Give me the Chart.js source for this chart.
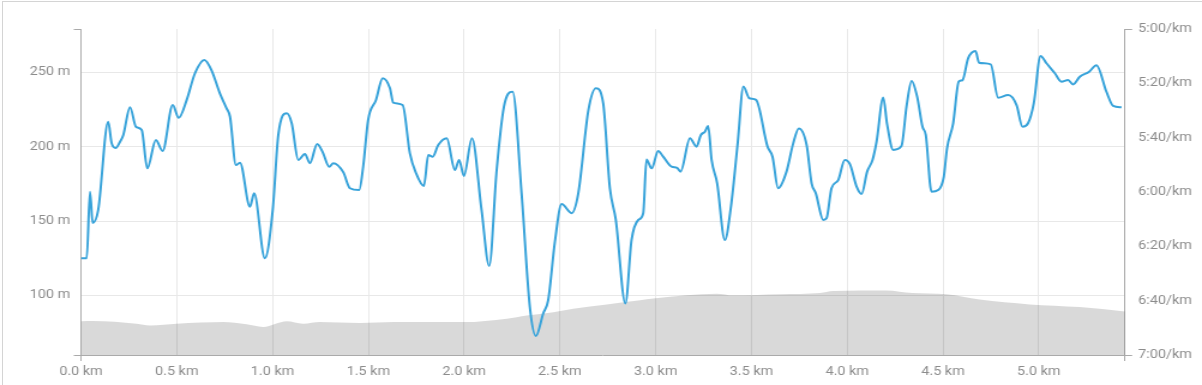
<!DOCTYPE html>
<html>
<head>
<meta charset="utf-8">
<script src="https://cdn.jsdelivr.net/npm/chart.js@4.4.1/dist/chart.umd.min.js"></script>
<style>
  body { margin: 0; background: #fff; overflow: hidden; }
  #frame { position: absolute; left: 2px; top: 1px; width: 1300px; height: 500px;
           border-top: 1px solid #d4d4d4; border-left: 1px solid #d4d4d4; }
  #wrap { position: absolute; left: 0; top: 0; width: 1002px; height: 385px;
          transform: scaleX(1.1996); transform-origin: 0 0; }
</style>
</head>
<body>
<div id="frame"></div>
<div id="wrap"><canvas id="chart"></canvas></div>
<script>
// distance along the run (km) and pace (seconds per km)
let paceKm = [0, 0.030, 0.047, 0.061, 0.090, 0.142, 0.160, 0.181, 0.204, 0.221,
  0.256, 0.287, 0.317, 0.346, 0.391, 0.426, 0.479, 0.510, 0.552, 0.595,
  0.644, 0.682, 0.725, 0.760, 0.778, 0.809, 0.830, 0.882, 0.904, 0.960,
  1.001, 1.030, 1.074, 1.100, 1.134, 1.169, 1.195, 1.233, 1.261, 1.296,
  1.317, 1.369, 1.404, 1.452, 1.473, 1.499, 1.540, 1.575, 1.613, 1.630,
  1.679, 1.717, 1.748, 1.790, 1.813, 1.836, 1.865, 1.909, 1.952, 1.974,
  1.999, 2.041, 2.091, 2.131, 2.170, 2.208, 2.253, 2.300, 2.343, 2.375,
  2.413, 2.439, 2.474, 2.509, 2.561, 2.596, 2.649, 2.688, 2.726, 2.761,
  2.792, 2.842, 2.874, 2.909, 2.935, 2.952, 2.979, 3.013, 3.039, 3.083,
  3.112, 3.130, 3.179, 3.213, 3.236, 3.257, 3.274, 3.292, 3.321, 3.361,
  3.393, 3.428, 3.458, 3.489, 3.524, 3.584, 3.610, 3.639, 3.683, 3.718,
  3.747, 3.788, 3.814, 3.836, 3.875, 3.892, 3.918, 3.953, 3.987, 4.014,
  4.049, 4.075, 4.104, 4.132, 4.153, 4.188, 4.208, 4.240, 4.283, 4.310,
  4.336, 4.365, 4.393, 4.410, 4.440, 4.475, 4.504, 4.521, 4.553, 4.582,
  4.602, 4.631, 4.670, 4.688, 4.749, 4.788, 4.840, 4.884, 4.915, 4.944,
  4.974, 5.009, 5.040, 5.084, 5.118, 5.153, 5.179, 5.214, 5.263, 5.301,
  5.353, 5.388, 5.432]
let paceSec = [384.4, 384.4, 359.9, 371.4, 366.6, 334.1, 342.0, 343.8, 341.5, 339.0,
  328.8, 336.0, 337.2, 351.3, 340.9, 344.9, 328.0, 332.7, 326.1, 316.3,
  311.4, 315.3, 323.7, 329.2, 332.3, 350.1, 349.2, 365.4, 360.5, 384.4,
  366.6, 339.0, 331.0, 334.7, 348.2, 346.0, 349.4, 342.3, 345.2, 350.7,
  349.4, 352.7, 358.6, 359.3, 350.7, 333.5, 326.1, 318.1, 321.8, 327.1,
  328.0, 345.8, 352.9, 357.8, 346.4, 347.0, 342.7, 340.2, 351.9, 348.2,
  354.1, 340.2, 366.6, 387.2, 351.9, 328.6, 323.1, 360.5, 402.2, 413.0,
  404.7, 399.8, 378.3, 364.4, 367.8, 360.5, 329.8, 321.8, 327.3, 358.6,
  370.3, 401.0, 377.7, 370.3, 367.8, 348.0, 351.3, 344.9, 347.0, 350.7,
  351.1, 352.5, 340.2, 343.3, 339.0, 337.8, 335.7, 348.2, 356.8, 377.7,
  365.4, 342.1, 321.2, 325.5, 326.1, 343.3, 347.0, 358.6, 352.5, 342.1,
  336.6, 342.7, 356.8, 360.5, 370.3, 369.7, 358.6, 355.6, 348.2, 349.7,
  358.0, 360.7, 352.5, 348.2, 341.5, 325.2, 335.0, 344.5, 343.1, 328.3,
  319.1, 324.9, 336.0, 339.0, 359.9, 359.3, 354.4, 343.9, 334.7, 319.4,
  318.8, 310.8, 308.1, 312.4, 313.0, 325.3, 324.3, 328.0, 336.0, 334.7,
  327.3, 309.9, 312.6, 316.3, 319.4, 318.8, 320.4, 317.6, 315.7, 313.3,
  323.1, 328.3, 328.8]

// elevation profile (m)
let elevKm = [0, 0.064, 0.291, 0.360, 0.499, 0.743, 0.865, 0.951, 1.074, 1.160,
  1.247, 1.456, 1.630, 1.995, 2.222, 2.326, 2.465, 2.569, 2.744, 2.918,
  2.987, 3.161, 3.318, 3.405, 3.648, 3.857, 3.926, 4.205, 4.342, 4.518,
  4.692, 4.953, 5.214, 5.45]
let elevM = [82.6, 82.8, 81.0, 79.9, 81.0, 82.1, 80.6, 78.8, 82.6, 81.0,
  82.1, 81.5, 82.1, 82.1, 84.4, 86.6, 88.8, 91.1, 94.0, 96.7,
  97.9, 100.1, 101.2, 100.1, 100.8, 101.6, 103.0, 103.4, 101.6, 100.8,
  97.2, 94.0, 92.2, 89.3]

// axis ticks
let kmTicks = [0, 0.5, 1.0, 1.5, 2.0, 2.5, 3.0, 3.5, 4.0, 4.5, 5.0]
let elevTicks = [100, 150, 200, 250]
let paceTicks = [300, 320, 340, 360, 380, 400, 420]

let kmMax = 5.45
let elevMin = 60
let elevMax = 279

let axisGray = '#aaaaaa'
let gridGray = '#e8e8e8'
let labelGray = '#8c8c8c'

let fmtPace = v => Math.floor(v / 60) + ':' + String(Math.round(v % 60)).padStart(2, '0') + '/km'

let ctx = document.getElementById('chart').getContext('2d')
let myChart = new Chart(ctx, {
  type: 'line',
  data: {
    datasets: [
      {
        label: 'Pace',
        data: paceKm.map((k, i) => ({x: k, y: paceSec[i]})),
        yAxisID: 'pace',
        borderColor: '#38a3da',
        borderWidth: 2,
        pointRadius: 0,
        fill: false,
        cubicInterpolationMode: 'monotone'
      },
      {
        label: 'Elevation',
        data: elevKm.map((k, i) => ({x: k, y: elevM[i]})),
        yAxisID: 'elev',
        borderWidth: 0,
        borderColor: 'rgba(0,0,0,0)',
        backgroundColor: 'rgba(0,0,0,0.15)',
        pointRadius: 0,
        fill: 'start',
        cubicInterpolationMode: 'monotone'
      }
    ]
  },
  options: {
    responsive: true,
    maintainAspectRatio: false,
    animation: false,
    layout: { padding: { top: 29 } },
    plugins: { legend: { display: false }, tooltip: { enabled: false } },
    font: { family: 'Roboto' },
    scales: {
      x: {
        type: 'linear',
        min: 0,
        max: kmMax,
        afterBuildTicks: s => { s.ticks = kmTicks.concat([kmMax]).map(v => ({value: v})) },
        afterFit: s => { s.height = 30 },
        border: { color: axisGray },
        grid: {
          color: c => (c.tick && c.tick.value > 0 && c.tick.value < kmMax) ? gridGray : 'rgba(0,0,0,0)',
          tickColor: c => (c.tick && (c.tick.value === 0 || c.tick.value === kmMax)) ? axisGray : 'rgba(0,0,0,0)',
          tickLength: 6
        },
        ticks: {
          autoSkip: false,
          maxRotation: 0,
          padding: 4,
          color: labelGray,
          font: { family: 'Roboto', size: 12 },
          callback: v => kmTicks.includes(v) ? v.toFixed(1) + ' km' : ''
        }
      },
      elev: {
        type: 'linear',
        position: 'left',
        min: elevMin,
        max: elevMax,
        afterBuildTicks: s => { s.ticks = [elevMin].concat(elevTicks, [elevMax]).map(v => ({value: v})) },
        afterFit: s => { s.width = 67.5 },
        border: { color: axisGray },
        grid: {
          color: c => (c.tick && elevTicks.includes(c.tick.value)) ? gridGray : 'rgba(0,0,0,0)',
          tickColor: c => (c.tick && elevTicks.includes(c.tick.value)) ? 'rgba(0,0,0,0)' : axisGray,
          tickLength: 6
        },
        ticks: {
          padding: 3,
          color: labelGray,
          font: { family: 'Roboto', size: 12 },
          callback: v => elevTicks.includes(v) ? v + ' m' : ''
        }
      },
      pace: {
        type: 'linear',
        position: 'right',
        reverse: true,
        min: paceTicks[0],
        max: paceTicks[paceTicks.length - 1],
        afterBuildTicks: s => { s.ticks = paceTicks.map(v => ({value: v})) },
        afterFit: s => { s.width = 64.2 },
        border: { color: axisGray },
        grid: {
          drawOnChartArea: false,
          tickColor: c => (c.tick && (c.tick.value === paceTicks[0] || c.tick.value === paceTicks[paceTicks.length - 1])) ? axisGray : 'rgba(0,0,0,0)',
          tickLength: 6
        },
        ticks: {
          padding: 5,
          color: labelGray,
          font: { family: 'Roboto', size: 12 },
          callback: v => fmtPace(v)
        }
      }
    }
  }
})
</script>
</body>
</html>
